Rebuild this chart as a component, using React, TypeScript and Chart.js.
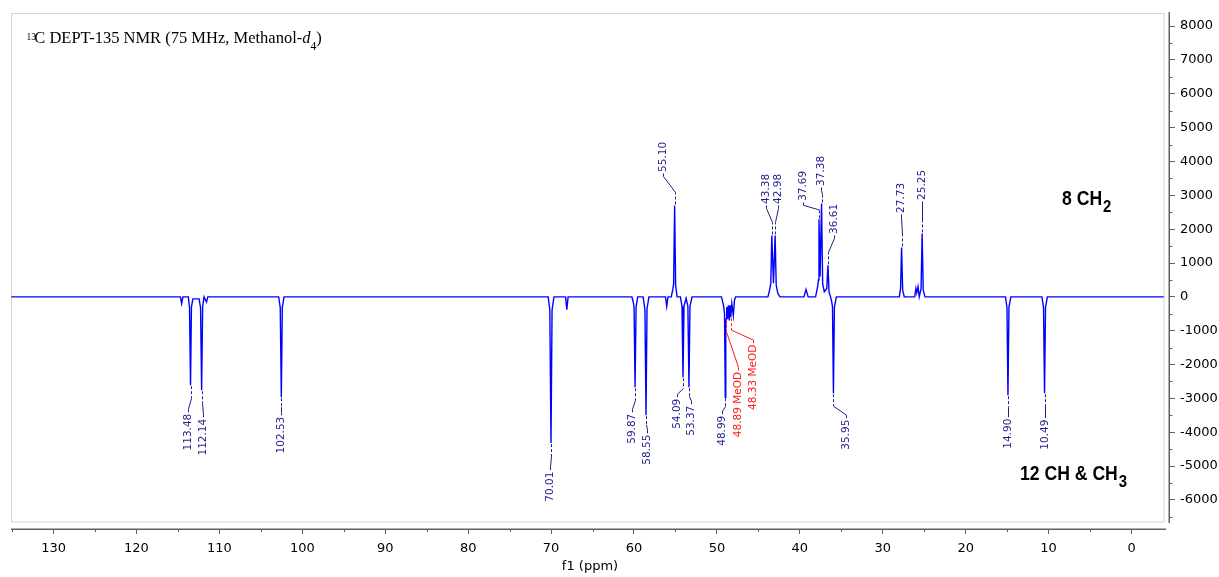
import React, { useEffect, useRef } from 'react';
import { Chart, registerables } from 'chart.js';

Chart.register(...registerables);

// ---------------- DATA ----------------
// Spectrum trace: chemical shift (ppm) and DEPT-135 intensity
const spectrumPpm: number[] = [
  135.1, 114.7, 114.55, 114.4,
  113.75, 113.6, 113.48, 113.37, 113.2,
  112.45, 112.27, 112.14, 112.02, 111.85, 111.55, 111.4,
  102.85, 102.66, 102.53, 102.41, 102.2,
  70.35, 70.15, 70.01, 69.88, 69.65,
  68.25, 68.1, 67.95,
  60.25, 60.05, 59.99, 59.87, 59.75, 59.55,
  58.9, 58.68, 58.55, 58.43, 58.2,
  56.2, 56.05, 55.9,
  55.5, 55.3, 55.22, 55.1, 54.98, 54.8,
  54.4, 54.21, 54.09, 53.97, 53.72, 53.5, 53.37, 53.25, 53.0,
  49.45, 49.2, 49.08, 48.99, 48.93, 48.89, 48.82, 48.72, 48.62, 48.5, 48.42, 48.33, 48.2, 48.02, 47.88, 47.75,
  43.85, 43.65, 43.5, 43.38, 43.18, 42.98, 42.85, 42.65, 42.4,
  39.5, 39.25, 39.0,
  38.1, 37.85, 37.76, 37.69, 37.56, 37.38, 37.25, 37.05, 36.75, 36.61, 36.48, 36.3,
  36.15, 36.06, 35.95, 35.83, 35.6,
  28.0, 27.85, 27.73, 27.6, 27.4,
  26.15, 26.0, 25.9, 25.75, 25.6, 25.38, 25.25, 25.12, 24.9,
  15.2, 15.02, 14.9, 14.78, 14.55,
  10.8, 10.61, 10.49, 10.37, 10.15,
  -3.9,
];
const spectrumIntensity: number[] = [
  0, 0, -200, 0,
  0, -320, -2610, -300, -60,
  -60, -320, -2760, -300, 0, -150, 0,
  0, -320, -2965, -300, 0,
  0, -380, -4320, -380, 0,
  0, -380, 0,
  0, -200, -330, -2670, -300, 0,
  0, -380, -3495, -350, 0,
  0, -280, 0,
  0, 250, 380, 2700, 350, 0,
  0, -280, -2375, -280, -40, -280, -2670, -280, 0,
  0, -250, -500, -2965, -800, -650, -300, -650, -250, -700, -250, -600, -200, -550, -100, 0,
  0, 200, 400, 1815, 400, 1815, 350, 100, 0,
  0, 220, 0,
  0, 300, 500, 2290, 600, 2760, 400, 150, 250, 930, 150, 0,
  -150, -300, -2845, -300, 0,
  0, 250, 1460, 200, 0,
  0, 250, 120, 300, 0, 250, 1875, 200, 0,
  0, -320, -2905, -300, 0,
  0, -320, -2845, -300, 0,
  0,
];

// Picked peaks (labelled in navy)
const peakPpm: number[] = [
  113.48, 112.14, 102.53, 70.01, 59.87, 58.55, 55.1, 54.09, 53.37, 48.99,
  43.38, 42.98, 37.69, 37.38, 36.61, 35.95, 27.73, 25.25, 14.9, 10.49,
];
const peakIntensity: number[] = [
  -2610, -2760, -2965, -4320, -2670, -3495, 2700, -2375, -2670, -2965,
  1815, 1815, 2290, 2760, 930, -2845, 1460, 1875, -2905, -2845,
];

// Solvent peaks (labelled in red)
const solventPpm: number[] = [48.89, 48.33];
const solventIntensity: number[] = [-650, -600];
const solventTag = 'MeOD';

// Axis ticks
const xTickValues: number[] = [0, 10, 20, 30, 40, 50, 60, 70, 80, 90, 100, 110, 120, 130];
const xMinorTickValues: number[] = [5, 15, 25, 35, 45, 55, 65, 75, 85, 95, 105, 115, 125, 135];
const yTickValues: number[] = [-6000, -5000, -4000, -3000, -2000, -1000, 0, 1000, 2000, 3000, 4000, 5000, 6000, 7000, 8000];
const yMinorTickValues: number[] = [-6500, -5500, -4500, -3500, -2500, -1500, -500, 500, 1500, 2500, 3500, 4500, 5500, 6500, 7500];

// Texts
const titleSup = '13';
const titleMain = 'C DEPT-135 NMR (75 MHz, Methanol-';
const titleItalic = 'd';
const titleSub = '4';
const titleEnd = ')';
const ch2Main = '8 CH';
const ch2Sub = '2';
const chMain = '12 CH & CH';
const chSub = '3';
const xTitle = 'f1 (ppm)';

// ---------------- LAYOUT / STYLE ----------------
const X_MIN = -4.52;
const X_MAX = 135.13;
const Y_MIN = -6858;
const Y_MAX = 8392;
const FONT = "'DejaVu Sans', sans-serif";
const NAVY = '#1e1e8c';
const RED = '#ff1a1a';
const AXIS = '#606060';
// [horizontal shift px, distance from tip to label px], same order as peakPpm
const PEAK_LABEL_LAYOUT: [number, number][] = [
  [-3, 27], [1, 27], [0, 18], [-1, 27], [-3.5, 25], [1, 18], [-12, 32], [-6, 20], [2.5, 17], [-3, 17],
  [-6, 30], [3, 30], [-15.7, 17], [-1, 16], [6.5, 30], [12.6, 25], [-1, 33], [0, 32], [0, 22], [0, 25],
];
const SOLVENT_LABEL_LAYOUT: [number, number][] = [[12, 51.5], [22.6, 26]];

function drawPeakLabel(
  ctx: CanvasRenderingContext2D,
  px: number,
  tipY: number,
  zeroY: number,
  dx: number,
  gap: number,
  text: string,
  color: string
) {
  const dir = tipY < zeroY ? -1 : 1;
  const x0 = Math.round(px) + 0.5;
  const lx = Math.round(px + dx) + 0.5;
  const dashLen = Math.min(13, gap * 0.55);
  const yDashEnd = tipY + dir * dashLen;
  const yBend = tipY + dir * (gap - 3);
  const yEnd = tipY + dir * gap;
  ctx.save();
  ctx.strokeStyle = color;
  ctx.lineWidth = 1;
  ctx.setLineDash([3, 2]);
  ctx.beginPath();
  ctx.moveTo(x0, tipY + dir * 1);
  ctx.lineTo(x0, yDashEnd);
  ctx.stroke();
  ctx.setLineDash([]);
  ctx.beginPath();
  ctx.moveTo(x0, yDashEnd);
  ctx.lineTo(lx, yBend);
  ctx.lineTo(lx, yEnd);
  ctx.stroke();
  ctx.translate(lx, yEnd + dir * 1.5);
  ctx.rotate(-Math.PI / 2);
  ctx.fillStyle = color;
  ctx.font = `10.5px ${FONT}`;
  ctx.textBaseline = 'middle';
  ctx.textAlign = dir < 0 ? 'left' : 'right';
  ctx.fillText(text, 0, 0);
  ctx.restore();
}

const decorPlugin = {
  id: 'nmrDecor',
  beforeDatasetsDraw(chart: any) {
    const ctx: CanvasRenderingContext2D = chart.ctx;
    ctx.save();
    // light frame of the spectrum area
    ctx.strokeStyle = '#d4d4d4';
    ctx.lineWidth = 1;
    ctx.strokeRect(11.5, 13.5, 1152.5, 508.5);
    ctx.restore();
  },
  afterDraw(chart: any) {
    const ctx: CanvasRenderingContext2D = chart.ctx;
    const xs = chart.scales.x;
    const ys = chart.scales.y;
    const area = chart.chartArea;
    const zeroY = ys.getPixelForValue(0);

    ctx.save();
    // axis lines
    ctx.strokeStyle = AXIS;
    ctx.lineWidth = 1.5;
    ctx.beginPath();
    ctx.moveTo(11, area.bottom + 0.25);
    ctx.lineTo(1166, area.bottom + 0.25);
    ctx.stroke();
    ctx.beginPath();
    ctx.moveTo(area.right + 0.25, 12);
    ctx.lineTo(area.right + 0.25, 523);
    ctx.stroke();
    // minor ticks
    ctx.lineWidth = 1;
    ctx.beginPath();
    xMinorTickValues.forEach((v) => {
      const p = Math.round(xs.getPixelForValue(v)) + 0.5;
      ctx.moveTo(p, area.bottom);
      ctx.lineTo(p, area.bottom + 3);
    });
    yMinorTickValues.forEach((v) => {
      const p = Math.round(ys.getPixelForValue(v)) + 0.5;
      ctx.moveTo(area.right, p);
      ctx.lineTo(area.right + 3.5, p);
    });
    ctx.stroke();
    ctx.restore();

    // peak labels
    peakPpm.forEach((ppm, i) => {
      const [dx, gap] = PEAK_LABEL_LAYOUT[i];
      drawPeakLabel(ctx, xs.getPixelForValue(ppm), ys.getPixelForValue(peakIntensity[i]), zeroY, dx, gap, ppm.toFixed(2), NAVY);
    });
    solventPpm.forEach((ppm, i) => {
      const [dx, gap] = SOLVENT_LABEL_LAYOUT[i];
      drawPeakLabel(ctx, xs.getPixelForValue(ppm), ys.getPixelForValue(solventIntensity[i]), zeroY, dx, gap, `${ppm.toFixed(2)} ${solventTag}`, RED);
    });

    // title
    ctx.save();
    ctx.fillStyle = '#000';
    ctx.textAlign = 'left';
    ctx.textBaseline = 'alphabetic';
    ctx.font = "9.5px 'Liberation Serif', serif";
    ctx.fillText(titleSup, 26.5, 39.5);
    let x = 34.3;
    ctx.font = "16.5px 'Liberation Serif', serif";
    ctx.fillText(titleMain, x, 43.3);
    x += ctx.measureText(titleMain).width;
    ctx.font = "italic 16.5px 'Liberation Serif', serif";
    ctx.fillText(titleItalic, x, 43.3);
    x += ctx.measureText(titleItalic).width;
    ctx.font = "11.5px 'Liberation Serif', serif";
    ctx.fillText(titleSub, x, 50);
    x += ctx.measureText(titleSub).width;
    ctx.font = "16.5px 'Liberation Serif', serif";
    ctx.fillText(titleEnd, x, 43.3);
    ctx.restore();

    // multiplicity annotations
    const drawBold = (main: string, sub: string, left: number, base: number) => {
      ctx.save();
      ctx.fillStyle = '#000';
      ctx.textAlign = 'left';
      ctx.textBaseline = 'alphabetic';
      ctx.translate(left, base);
      ctx.scale(0.88, 1);
      ctx.font = "bold 20px 'Liberation Sans', Arial, sans-serif";
      ctx.fillText(main, 0, 0);
      const w = ctx.measureText(main).width;
      ctx.font = "bold 17px 'Liberation Sans', Arial, sans-serif";
      ctx.fillText(sub, w + 1, 7);
      ctx.restore();
    };
    drawBold(ch2Main, ch2Sub, 1062, 205);
    drawBold(chMain, chSub, 1020, 480);
  },
};

export default function App() {
  const ref = useRef<HTMLCanvasElement>(null);

  useEffect(() => {
    const canvas = ref.current;
    if (!canvas) return;
    Chart.defaults.font.family = FONT;
    const data = spectrumPpm.map((p, i) => ({ x: p, y: spectrumIntensity[i] }));
    const chart = new Chart(canvas, {
      type: 'line',
      data: {
        datasets: [
          {
            data,
            borderColor: '#0000ff',
            borderWidth: 1.4,
            pointRadius: 0,
            tension: 0,
            fill: false,
          },
        ],
      },
      options: {
        responsive: false,
        maintainAspectRatio: false,
        animation: false,
        devicePixelRatio: 1,
        events: [],
        layout: { padding: { left: 11, top: 12, right: 0, bottom: 0 } },
        plugins: { legend: { display: false }, tooltip: { enabled: false } },
        scales: {
          x: {
            type: 'linear',
            reverse: true,
            min: X_MIN,
            max: X_MAX,
            afterBuildTicks: (s: any) => {
              s.ticks = xTickValues.map((v) => ({ value: v }));
            },
            afterFit: (s: any) => {
              s.height = 48;
            },
            ticks: {
              callback: (v: any) => String(v),
              color: '#000',
              font: { size: 13, family: FONT },
              padding: 7,
              maxRotation: 0,
              autoSkip: false,
              includeBounds: false,
            },
            grid: { drawOnChartArea: false, drawTicks: true, tickLength: 5, tickColor: AXIS, tickWidth: 1 },
            border: { display: false },
            title: {
              display: true,
              text: xTitle,
              color: '#000',
              font: { size: 13, family: FONT },
              padding: { top: 0, bottom: 3 },
            },
          },
          y: {
            type: 'linear',
            position: 'right',
            min: Y_MIN,
            max: Y_MAX,
            afterBuildTicks: (s: any) => {
              s.ticks = yTickValues.map((v) => ({ value: v }));
            },
            afterFit: (s: any) => {
              s.width = 50;
            },
            ticks: {
              callback: (v: any) => String(v),
              color: '#000',
              font: { size: 13, family: FONT },
              padding: 5,
              autoSkip: false,
              includeBounds: false,
            },
            grid: { drawOnChartArea: false, drawTicks: true, tickLength: 6, tickColor: AXIS, tickWidth: 1 },
            border: { display: false },
          },
        },
      },
      plugins: [decorPlugin],
    } as any);
    return () => chart.destroy();
  }, []);

  return (
    <div style={{ position: 'fixed', left: 0, top: 0, width: 1219, height: 577, background: '#fff' }}>
      <canvas ref={ref} width={1219} height={577} style={{ display: 'block', width: 1219, height: 577 }} />
    </div>
  );
}
